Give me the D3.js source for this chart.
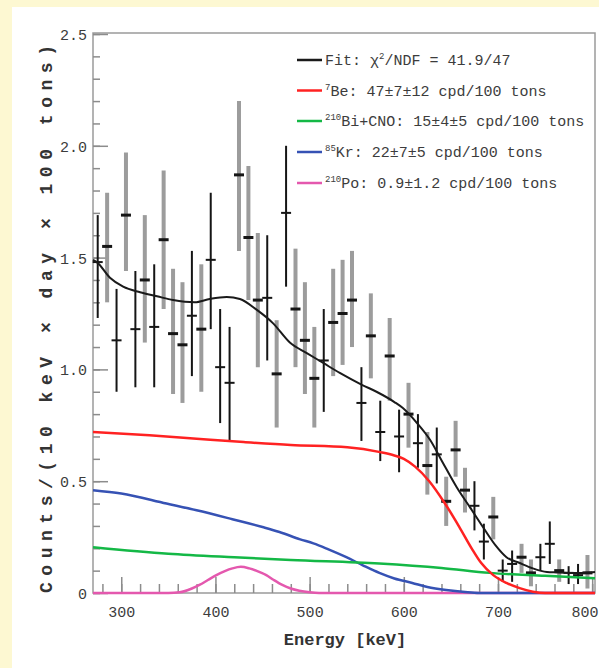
<!DOCTYPE html>
<html>
<head>
<meta charset="utf-8">
<script src="https://cdn.jsdelivr.net/npm/d3@7"></script>
<style>
  html, body { margin: 0; padding: 0; background: #fdf8d2; }
  svg { display: block; }
</style>
</head>
<body>
<div id="chart"></div>
<script>
// data
const energy = [275, 285, 295, 305, 315, 325, 335, 345, 355, 365, 375, 385, 395, 405, 415, 425, 435, 445, 455, 465,
  475, 485, 495, 505, 515, 525, 535, 545, 555, 565, 575, 585, 595, 605, 615, 625, 635, 645, 655, 665,
  675, 685, 695, 705, 715, 725, 735, 745, 755, 765, 775, 785, 795];
const counts = [1.48, 1.55, 1.13, 1.69, 1.18, 1.40, 1.19, 1.58, 1.16, 1.11, 1.24, 1.18, 1.49, 1.01, 0.94, 1.87, 1.59, 1.31, 1.32, 0.98,
  1.70, 1.27, 1.13, 0.96, 1.04, 1.21, 1.25, 1.31, 0.85, 1.15, 0.72, 1.06, 0.70, 0.80, 0.67, 0.57, 0.62, 0.41, 0.64, 0.46,
  0.39, 0.23, 0.34, 0.10, 0.13, 0.16, 0.09, 0.16, 0.22, 0.10, 0.09, 0.08, 0.09];
const errLow = [1.23, 1.30, 0.90, 1.44, 0.92, 1.12, 0.92, 1.27, 0.89, 0.85, 0.97, 0.90, 1.18, 0.76, 0.68, 1.53, 1.31, 1.01, 1.04, 0.74,
  1.37, 1.01, 0.89, 0.74, 0.81, 0.97, 1.02, 1.10, 0.68, 0.96, 0.59, 0.86, 0.54, 0.65, 0.56, 0.44, 0.49, 0.30, 0.52, 0.36,
  0.28, 0.15, 0.24, 0.05, 0.05, 0.09, 0.03, 0.10, 0.13, 0.05, 0.04, 0.04, 0.02];
const errHigh = [1.69, 1.79, 1.36, 1.97, 1.44, 1.69, 1.47, 1.89, 1.45, 1.39, 1.53, 1.47, 1.79, 1.27, 1.19, 2.20, 1.91, 1.61, 1.60, 1.22,
  2.00, 1.54, 1.39, 1.19, 1.27, 1.45, 1.49, 1.53, 1.01, 1.34, 0.86, 1.23, 0.82, 0.94, 0.80, 0.72, 0.74, 0.52, 0.77, 0.56,
  0.50, 0.31, 0.43, 0.15, 0.19, 0.22, 0.15, 0.22, 0.32, 0.15, 0.12, 0.13, 0.17];
// k = black thin bar, g = grey thick bar
const barKind = ["k", "g", "k", "g", "k", "g", "k", "g", "g", "g", "k", "g", "k", "k", "k", "g", "g", "g", "k", "g",
  "k", "g", "g", "g", "k", "g", "g", "g", "k", "g", "k", "g", "k", "g", "k", "g", "k", "g", "g", "g",
  "k", "k", "g", "k", "k", "g", "g", "k", "k", "g", "k", "k", "g"];

const fitE = [270, 274, 288, 302, 320, 338, 355, 378, 394, 412, 426, 444, 461, 479, 497, 514, 532, 556, 571, 590,
  599, 614, 628, 641, 656, 670, 684, 697, 709, 723, 737, 752, 762, 787, 803];
const fitV = [1.49, 1.48, 1.41, 1.37, 1.345, 1.327, 1.31, 1.30, 1.315, 1.324, 1.315, 1.266, 1.207, 1.12, 1.073, 1.03, 0.984, 0.93, 0.90, 0.854,
  0.827, 0.76, 0.684, 0.586, 0.474, 0.385, 0.295, 0.215, 0.16, 0.134, 0.11, 0.094, 0.092, 0.089, 0.094];

const beE = [270, 330, 380, 430, 480, 540, 575, 590, 600, 612, 627, 643, 659, 672, 682, 695, 709, 723, 737, 750, 803];
const beV = [0.72, 0.705, 0.69, 0.675, 0.662, 0.652, 0.63, 0.615, 0.60, 0.565, 0.50, 0.405, 0.295, 0.20, 0.135, 0.08, 0.045, 0.022, 0.006, 0, 0];

const biE = [270, 350, 420, 480, 574, 640, 691, 750, 803];
const biV = [0.205, 0.176, 0.16, 0.148, 0.132, 0.112, 0.09, 0.077, 0.066];

const krE = [270, 300, 348, 380, 418, 450, 468, 490, 504, 520, 539, 556, 574, 590, 609, 625, 645, 665, 680, 803];
const krV = [0.46, 0.445, 0.40, 0.37, 0.33, 0.295, 0.273, 0.24, 0.222, 0.195, 0.16, 0.125, 0.09, 0.065, 0.045, 0.027, 0.013, 0.004, 0, 0];

const poE = [270, 350, 362, 375, 383, 392, 401, 410, 418, 427, 436, 445, 454, 462, 471, 480, 489, 500, 510, 803];
const poV = [0, 0, 0.003, 0.02, 0.036, 0.058, 0.08, 0.098, 0.11, 0.117, 0.11, 0.097, 0.08, 0.058, 0.036, 0.02, 0.01, 0.003, 0, 0];

const yMajor = [0, 0.5, 1.0, 1.5, 2.0, 2.5];
const yLabels = ["0", "0.5", "1.0", "1.5", "2.0", "2.5"];
const xMajor = [300, 400, 500, 600, 700, 800];

const legendRows = [
  { color: "#1a1a1a", text: "Fit: \u03c7", sup2: "2", rest: "/NDF = 41.9/47" },
  { color: "#ff2222", sup: "7", text: "Be: 47\u00b17\u00b112 cpd/100 tons" },
  { color: "#14b846", sup: "210", text: "Bi+CNO: 15\u00b14\u00b15 cpd/100 tons" },
  { color: "#3652b4", sup: "85", text: "Kr: 22\u00b17\u00b15 cpd/100 tons" },
  { color: "#e458ae", sup: "210", text: "Po: 0.9\u00b11.2 cpd/100 tons" }
];

const W = 599, H = 668;
const plotL = 93, plotR = 595, plotT = 33, plotB = 593;
const mono = "'Liberation Mono', 'DejaVu Sans Mono', monospace";

const svg = d3.select("#chart").append("svg")
  .attr("width", W)
  .attr("height", H);

// white panel on yellow page
svg.append("rect").attr("x", 12).attr("y", 7).attr("width", W - 12).attr("height", H - 7).attr("fill", "#ffffff");

const x = d3.scaleLinear().domain([270, 803]).range([plotL, plotR]);
const y = d3.scaleLinear().domain([0, 2.5]).range([plotB, 34]);

// frame
svg.append("rect")
  .attr("x", plotL).attr("y", plotT)
  .attr("width", plotR - plotL).attr("height", plotB - plotT)
  .attr("fill", "none").attr("stroke", "#9a9a9a").attr("stroke-width", 1.5);

// y axis: minor ticks then majors with labels
const yMinor = svg.append("g").attr("transform", `translate(${plotL},0)`)
  .call(d3.axisLeft(y).tickValues(d3.range(0, 2.51, 0.1)).tickSize(-7).tickFormat(""));
const yAx = svg.append("g").attr("transform", `translate(${plotL},0)`)
  .call(d3.axisLeft(y).tickValues(yMajor).tickSize(-15).tickPadding(6)
    .tickFormat((d, i) => yLabels[i]));

const xMinor = svg.append("g").attr("transform", `translate(0,${plotB})`)
  .call(d3.axisBottom(x).tickValues(d3.range(280, 801, 20)).tickSize(-9).tickFormat(""));
const xAx = svg.append("g").attr("transform", `translate(0,${plotB})`)
  .call(d3.axisBottom(x).tickValues(xMajor).tickSize(-16).tickPadding(13).tickFormat(d3.format("d")));

[yMinor, yAx, xMinor, xAx].forEach(g => {
  g.select(".domain").remove();
  g.selectAll(".tick line").attr("stroke", "#8c8c8c").attr("stroke-width", 1.5);
  g.selectAll("text").attr("fill", "#3c3c3c").style("font-family", mono).style("font-size", "15px");
});
yAx.selectAll("text").attr("dy", "0.36em");
// last label sits against the right edge of the page
xAx.selectAll(".tick").filter(d => d === 800).select("text")
  .attr("text-anchor", "end").attr("x", 598 - x(800));

// data error bars
const pts = energy.map((e, i) => ({ e, v: counts[i], lo: errLow[i], hi: errHigh[i], k: barKind[i] }));
const dataG = svg.append("g");
dataG.selectAll("line.err").data(pts).join("line")
  .attr("class", "err")
  .attr("x1", d => x(d.e)).attr("x2", d => x(d.e))
  .attr("y1", d => y(d.lo)).attr("y2", d => y(d.hi))
  .attr("stroke", d => d.k === "g" ? "#9c9c9c" : "#151515")
  .attr("stroke-width", d => d.k === "g" ? 4 : 2);
dataG.selectAll("line.mark").data(pts).join("line")
  .attr("class", "mark")
  .attr("x1", d => x(d.e) - 5).attr("x2", d => x(d.e) + 5)
  .attr("y1", d => y(d.v)).attr("y2", d => y(d.v))
  .attr("stroke", "#151515")
  .attr("stroke-width", d => d.k === "g" ? 3 : 2);

// component curves
const line = d3.line().x(d => x(d[0])).y(d => y(d[1])).curve(d3.curveMonotoneX);
const curves = [
  { e: poE, v: poV, color: "#e458ae", w: 2.5 },
  { e: krE, v: krV, color: "#3652b4", w: 2.5 },
  { e: biE, v: biV, color: "#14b846", w: 2.5 },
  { e: beE, v: beV, color: "#ff2222", w: 2.5 },
  { e: fitE, v: fitV, color: "#1a1a1a", w: 2 }
];
svg.append("g").selectAll("path").data(curves).join("path")
  .attr("d", c => line(c.e.map((e, i) => [e, c.v[i]])))
  .attr("fill", "none")
  .attr("stroke", c => c.color)
  .attr("stroke-width", c => c.w);

// legend
const legY = [60, 90.5, 121, 152, 183];
const leg = svg.append("g").style("font-family", mono).style("font-size", "15px").attr("fill", "#3c3c3c");
legendRows.forEach((r, i) => {
  leg.append("line")
    .attr("x1", 297).attr("x2", 322)
    .attr("y1", legY[i]).attr("y2", legY[i])
    .attr("stroke", r.color).attr("stroke-width", 2.5);
  const t = leg.append("text").attr("x", 325).attr("y", legY[i] + 5);
  if (i === 0) {
    t.append("tspan").text(r.text);
    t.append("tspan").attr("dy", -6).style("font-size", "9px").text(r.sup2);
    t.append("tspan").attr("dy", 6).text(r.rest);
  } else {
    t.append("tspan").attr("dy", -6).style("font-size", "9px").text(r.sup);
    t.append("tspan").attr("dy", 6).text(r.text);
  }
});

// axis titles
svg.append("text")
  .attr("transform", "translate(52,319) rotate(-90)")
  .attr("text-anchor", "middle")
  .attr("textLength", 548)
  .attr("lengthAdjust", "spacing")
  .style("font-family", mono).style("font-size", "18px").style("font-weight", "bold")
  .attr("fill", "#333")
  .text("Counts/(10 keV \u00d7 day \u00d7 100 tons)");

svg.append("text")
  .attr("x", 345).attr("y", 645)
  .attr("text-anchor", "middle")
  .style("font-family", mono).style("font-size", "17px").style("font-weight", "bold")
  .attr("fill", "#333")
  .text("Energy [keV]");
</script>
</body>
</html>
